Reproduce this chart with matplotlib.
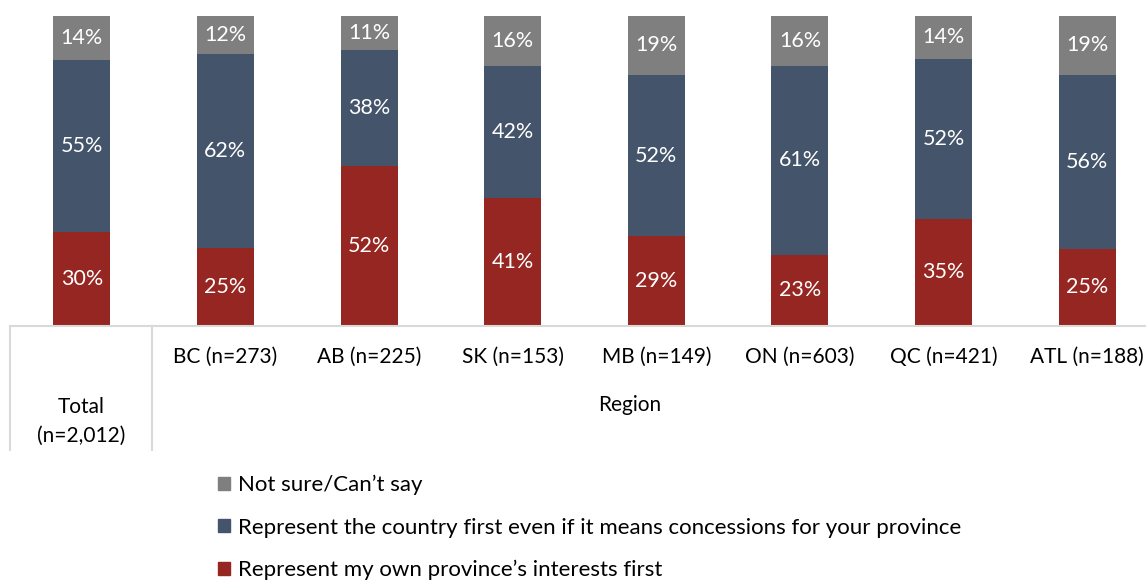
import matplotlib
matplotlib.use("Agg")
import numpy as np
import matplotlib.pyplot as plt
from matplotlib.patches import Patch
from matplotlib.lines import Line2D

plt.rcParams['font.family'] = ['Lato', 'DejaVu Sans']

categories = ["Total\n(n=2,012)", "BC (n=273)", "AB (n=225)", "SK (n=153)", "MB (n=149)",
              "ON (n=603)", "QC (n=421)", "ATL (n=188)"]
province_first = [30, 25, 52, 41, 29, 23, 35, 25]
country_first = [55, 62, 38, 42, 52, 61, 52, 56]
not_sure = [14, 12, 11, 16, 19, 16, 14, 19]

series_names = ["Represent my own province\u2019s interests first",
                "Represent the country first even if it means concessions for your province",
                "Not sure/Can\u2019t say"]
colors = ["#962621", "#44546a", "#7f7f7f"]

W, H = 1146, 586
fig = plt.figure(figsize=(W / 100, H / 100), dpi=100)
ax = fig.add_axes([10 / W, (H - 326) / H, (W - 10) / W, 310 / H])

data = np.array([province_first, country_first, not_sure], dtype=float)
# 100% stacked: normalise each column
pct = data / data.sum(axis=0) * 100
x = np.arange(len(categories))
bottom = np.zeros(len(categories))
for vals, raw, c in zip(pct, data, colors):
    ax.bar(x, vals, 0.397, bottom=bottom, color=c, edgecolor="none")
    for xi, b, v, r in zip(x, bottom, vals, raw):
        ax.text(xi, b + v / 2, f"{int(r)}%", ha="center", va="center",
                color="white", fontsize=15.5)
    bottom += vals

ax.set_xlim(-0.5, 7.41)
ax.set_ylim(0, 100)
ax.set_xticks([])
ax.set_yticks([])
for s in ["top", "left", "right"]:
    ax.spines[s].set_visible(False)
ax.spines["bottom"].set_color("#d9d9d9")
ax.spines["bottom"].set_linewidth(1.5)

# table-like category axis
def fx(px):
    return px / W

def fy(py):
    return (H - py) / H

for px in [10, 152]:
    fig.add_artist(Line2D([fx(px), fx(px)], [fy(326), fy(450)], color="#d9d9d9", lw=1.5))

fig.text(fx(81), fy(421), categories[0], ha="center", va="center", fontsize=15, linespacing=1.55)
for i in range(1, len(categories)):
    xp = ax.transData.transform((x[i], 0))[0]
    fig.text(xp / W, fy(357), categories[i], ha="center", va="center", fontsize=15)
fig.text(fx(630), fy(405), "Region", ha="center", va="center", fontsize=15)

handles = [Patch(color=colors[2]), Patch(color=colors[1]), Patch(color=colors[0])]
labels = [series_names[2], series_names[1], series_names[0]]
fig.legend(handles, labels, loc="upper left", bbox_to_anchor=(fx(218), fy(475)),
           frameon=False, fontsize=16, handlelength=0.55, handleheight=0.55,
           handletextpad=0.35, labelspacing=1.0, borderaxespad=0, borderpad=0)

fig.savefig("out.png", dpi=100)
